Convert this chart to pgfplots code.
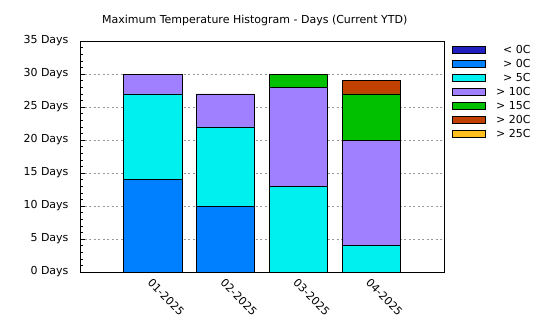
\documentclass[border=0pt]{standalone}
\usepackage{pgfplots}
\pgfplotsset{compat=1.18}
\usepackage{fontspec}
\setmainfont{DejaVu Sans}
\definecolor{cA}{HTML}{2020C0}
\definecolor{cB}{HTML}{0080FF}
\definecolor{cC}{HTML}{00F0F0}
\definecolor{cD}{HTML}{A080FF}
\definecolor{cE}{HTML}{00C000}
\definecolor{cF}{HTML}{C04000}
\definecolor{cG}{HTML}{FFC020}
\begin{document}
\begin{tikzpicture}[x=1bp,y=1bp]
\begin{axis}[
  scale only axis, width=364bp, height=231bp,
  ybar stacked, bar width=0.8,
  xmin=-1, xmax=4, ymin=0, ymax=35,
  xtick={0,1,2,3},
  xticklabels={01-2025,02-2025,03-2025,04-2025},
  x tick label style={rotate=-45, anchor=north west, inner sep=1pt, yshift=-3bp, xshift=3bp},
  xtick style={draw=none},
  ytick={0,5,...,35},
  minor ytick={0,1,...,35},
  yticklabel={\pgfmathprintnumber{\tick} Days},
  y tick label style={xshift=-8bp},
  tick pos=left, tick align=inside,
  major tick length=5bp, minor tick length=3bp,
  tick style={black, thin},
  ymajorgrids, grid style={black!40, dash pattern=on 2bp off 2.5bp, line width=0.8bp},
  axis line style={black},
  /pgf/number format/assume math mode=true,
  font=\fontsize{11bp}{13bp}\selectfont,
  tick label style={font=\fontsize{11bp}{13bp}\selectfont},
  title={Maximum Temperature Histogram - Days (Current YTD)},
  title style={at={(0.48,1)}, anchor=south, yshift=6bp, font=\fontsize{11bp}{13bp}\selectfont},
  legend style={at={(1.02,1)}, anchor=north west, draw=none, fill=none,
    font=\fontsize{11bp}{13bp}\selectfont, row sep=0.3bp, inner sep=0pt, yshift=-2bp,
    /tikz/every odd column/.append style={column sep=9bp}},
  legend cell align=right,
  legend image code/.code={\draw[#1, draw=black] (0bp,-3.5bp) rectangle (33bp,3.5bp);},
  every axis plot/.append style={draw=black, line width=0.6bp},
  clip=false,
]
\addlegendimage{fill=cA}\addlegendentry{< 0C}
\addplot[fill=cB] coordinates {(0,14) (1,10) (2,0) (3,0)};
\addlegendentry{> 0C}
\addplot[fill=cC] coordinates {(0,13) (1,12) (2,13) (3,4)};
\addlegendentry{> 5C}
\addplot[fill=cD] coordinates {(0,3) (1,5) (2,15) (3,16)};
\addlegendentry{> 10C}
\addplot[fill=cE] coordinates {(0,0) (1,0) (2,2) (3,7)};
\addlegendentry{> 15C}
\addplot[fill=cF] coordinates {(0,0) (1,0) (2,0) (3,2)};
\addlegendentry{> 20C}
\addlegendimage{fill=cG}\addlegendentry{> 25C}
\path (rel axis cs:-0.2198,-0.2511) (rel axis cs:1.2637,1.1775);
\end{axis}
\end{tikzpicture}
\end{document}
